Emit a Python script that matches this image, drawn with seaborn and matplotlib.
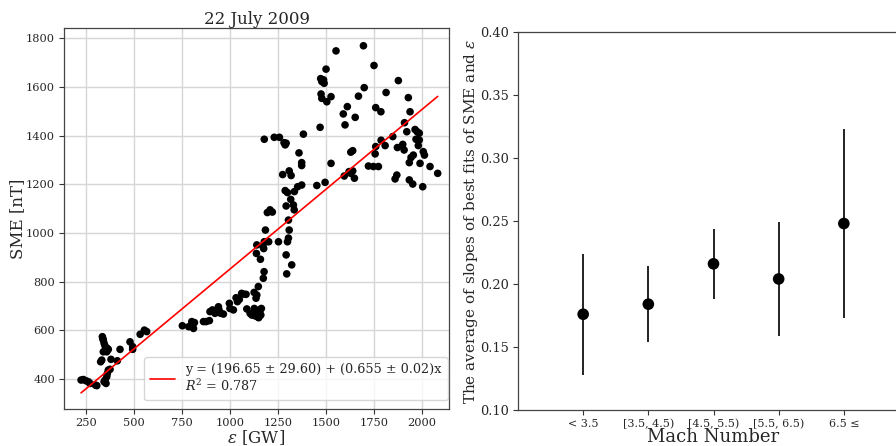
import numpy as np
import pandas as pd
import matplotlib
matplotlib.use("Agg")
import matplotlib.pyplot as plt
import seaborn as sns

# ---- Left panel data: epsilon [GW] vs SME [nT] ----
eps = [224, 236, 250, 262, 271, 299, 306, 332, 326, 337, 335, 340, 344, 351, 358, 349, 340, 361, 366,
       344, 349, 354, 358, 361, 366, 375, 380, 413, 427, 479, 493, 493, 532, 554, 566,
       752, 785, 801, 810, 815, 862, 876, 893, 896, 909, 922, 931, 940, 943, 952, 966,
       997, 1000, 1018, 1032, 1039, 1049, 1061, 1070, 1084, 1088, 1105, 1114, 1122, 1127, 1136,
       1143, 1150, 1161, 1164, 1126, 1140, 1148, 1136, 1138, 1140, 1159, 1174, 1178, 1176, 1179,
       1185, 1188, 1195, 1209, 1221, 1202, 1179, 1231, 1258, 1253, 1282, 1288, 1293, 1275, 1288,
       1300, 1293, 1305, 1309, 1305, 1300, 1293, 1296, 1322, 1309, 1319, 1317, 1331, 1335, 1336,
       1353, 1374, 1360, 1374, 1374, 1383, 1130, 1145, 1155, 1132, 1150, 1118, 1157, 1172,
       1453, 1470, 1473, 1479, 1488, 1491, 1475, 1479, 1496, 1501, 1505, 1527, 1527, 1553, 1591,
       1600, 1612, 1596, 1621, 1630, 1640, 1630, 1640, 1649, 1653, 1670, 1696, 1700, 1722, 1748,
       1751, 1760, 1760, 1757, 1774, 1787, 1788, 1809, 1814, 1849, 1861, 1870, 1873, 1878, 1901,
       1908, 1910, 1922, 1930, 1935, 1935, 1939, 1944, 1953, 1956, 1965, 1970, 1976, 1982, 1987,
       1987, 1991, 2005, 2008, 2014, 2043, 2083]
sme = [396, 398, 393, 389, 382, 375, 373, 478, 471, 567, 574, 560, 547, 519, 512, 536, 512, 526, 522,
       389, 396, 382, 410, 423, 437, 440, 481, 475, 522, 553, 533, 522, 584, 601, 595,
       619, 615, 636, 608, 632, 636, 636, 640, 677, 684, 670, 677, 697, 684, 670, 667,
       711, 690, 684, 734, 718, 727, 752, 749, 748, 688, 670, 663, 670, 690, 677,
       656, 670, 663, 690, 756, 745, 780, 732, 916, 951, 892, 814, 841, 936, 964,
       1012, 964, 1084, 1095, 1086, 964, 1385, 1393, 1393, 964, 1371, 1362, 1369, 1240, 1174,
       1166, 1111, 1053, 1012, 979, 964, 910, 832, 869, 1255, 1236, 1138, 1115, 1095, 1170,
       1190, 1197, 1329, 1289, 1277, 1406, 660, 668, 675, 680, 652, 665, 686, 945,
       1195, 1434, 1634, 1622, 1629, 1615, 1571, 1553, 1208, 1673, 1539, 1560, 1286, 1748, 1489,
       1444, 1519, 1234, 1252, 1332, 1338, 1245, 1255, 1225, 1475, 1562, 1769, 1597, 1275, 1273,
       1688, 1515, 1355, 1325, 1273, 1498, 1381, 1359, 1577, 1396, 1222, 1238, 1351, 1626, 1364,
       1341, 1453, 1416, 1556, 1289, 1218, 1498, 1310, 1201, 1320, 1425, 1385, 1416, 1359, 1382,
       1410, 1286, 1190, 1334, 1320, 1273, 1245]

fit_intercept = 196.65
fit_slope = 0.655
fit_label = "y = (196.65 ± 29.60) + (0.655 ± 0.02)x\n$R^2$ = 0.787"

# ---- Right panel data ----
mach_bins = ["< 3.5", "[3.5, 4.5)", "[4.5, 5.5)", "[5.5, 6.5)", "6.5 ≤"]
slope_mean = [0.176, 0.184, 0.216, 0.204, 0.248]
slope_err = [0.048, 0.030, 0.028, 0.045, 0.075]

sns.set_style("white")
plt.rcParams["font.family"] = ["DejaVu Serif"]
plt.rcParams["mathtext.fontset"] = "dejavuserif"

fig = plt.figure(figsize=(8.96, 4.46), dpi=100)
ax1 = fig.add_axes([64/896, 37/446, 385/896, 381/446])
ax2 = fig.add_axes([518/896, 36/446, 391/896, 378/446])

df = pd.DataFrame({"eps": eps, "sme": sme})
xs = np.array([min(eps), max(eps)])
line_df = pd.DataFrame({"x": xs, "y": fit_intercept + fit_slope * xs})

ax1.grid(True, color="#d6d6d6", lw=1.0, zorder=0)
ax1.set_axisbelow(True)
sns.lineplot(data=line_df, x="x", y="y", ax=ax1, color="red", lw=1.2, label=fit_label, zorder=3)
sns.scatterplot(data=df, x="eps", y="sme", ax=ax1, color="black", s=30, edgecolor="none", zorder=2)
ax1.set_xlim(135, 2142)
ax1.set_ylim(277, 1842)
ax1.set_xticks([250, 500, 750, 1000, 1250, 1500, 1750, 2000])
ax1.set_yticks([400, 600, 800, 1000, 1200, 1400, 1600, 1800])
ax1.tick_params(labelsize=8.2, length=3.5, pad=3, direction="out", color="#333333", left=True, bottom=True)
ax1.set_xlabel(r"$\epsilon$ [GW]", fontsize=12, labelpad=0)
ax1.set_ylabel("SME [nT]", fontsize=12, labelpad=0)
ax1.set_title("22 July 2009", fontsize=12, pad=3)
leg = ax1.legend(loc="lower right", bbox_to_anchor=(1.0, 0.02), fontsize=9.2, frameon=True,
                 handlelength=2.0, borderpad=0.45, borderaxespad=0.1, framealpha=0.8)
for sp in ax1.spines.values():
    sp.set_color("#444444")
    sp.set_linewidth(0.9)

xpos = np.arange(len(mach_bins))
ax2.errorbar(xpos, slope_mean, yerr=slope_err, fmt="none", ecolor="#222222", elinewidth=1.4, zorder=2)
sns.scatterplot(x=xpos, y=slope_mean, ax=ax2, color="black", s=70, edgecolor="none", zorder=3)
ax2.set_xlim(-1, 5)
ax2.set_ylim(0.10, 0.40)
ax2.set_xticks(xpos)
ax2.set_xticklabels(mach_bins)
ax2.set_yticks([0.10, 0.15, 0.20, 0.25, 0.30, 0.35, 0.40])
ax2.set_yticklabels(["0.10", "0.15", "0.20", "0.25", "0.30", "0.35", "0.40"])
ax2.tick_params(axis="x", labelsize=8, length=3.5, pad=3, bottom=True, color="#333333")
ax2.tick_params(axis="y", labelsize=9.3, length=3.5, pad=3, left=True, color="#333333")
ax2.set_xlabel("Mach Number", fontsize=13, labelpad=-1)
ax2.set_ylabel(r"The average of slopes of best fits of SME and $\epsilon$", fontsize=11, labelpad=0)
for sp in ax2.spines.values():
    sp.set_color("#444444")
    sp.set_linewidth(0.9)

fig.savefig("out.png", dpi=100)
